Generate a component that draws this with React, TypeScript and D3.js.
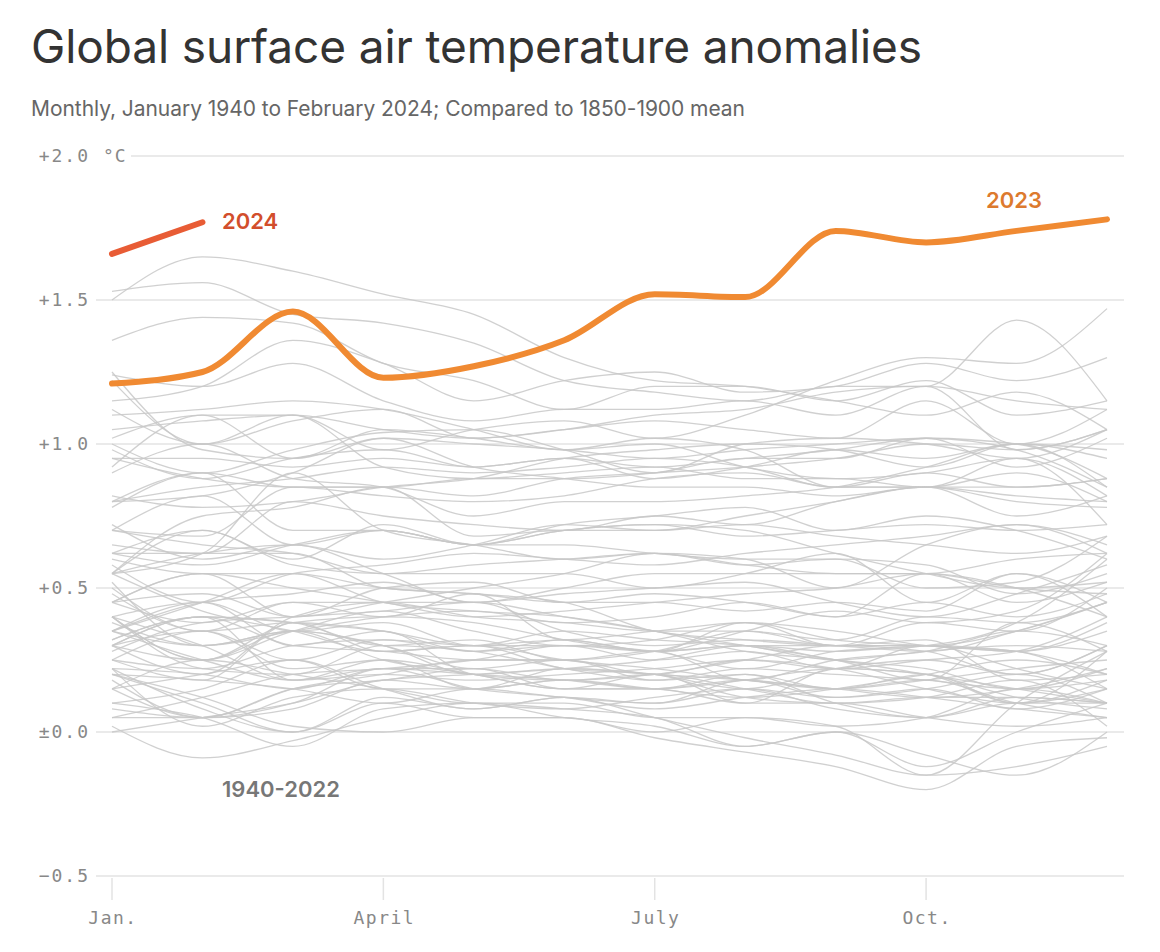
import React from "react";
import * as d3 from "d3";

const months = ["Jan", "Feb", "Mar", "Apr", "May", "Jun", "Jul", "Aug", "Sep", "Oct", "Nov", "Dec"];
const xTickMonths = [0, 3, 6, 9];
const xTickLabels = ["Jan.", "April", "July", "Oct."];
const yTicks = [2.0, 1.5, 1.0, 0.5, 0.0, -0.5];
const yTickLabels = ["+2.0", "+1.5", "+1.0", "+0.5", "±0.0", "−0.5"];

const values2023 = [1.21, 1.25, 1.46, 1.23, 1.27, 1.36, 1.52, 1.51, 1.74, 1.70, 1.74, 1.78];
const values2024 = [1.66, 1.77];

const grayYears = [
  1940, 1941, 1942, 1943, 1944, 1945, 1946, 1947, 1948, 1949,
  1950, 1951, 1952, 1953, 1954, 1955, 1956, 1957, 1958, 1959,
  1960, 1961, 1962, 1963, 1964, 1965, 1966, 1967, 1968, 1969,
  1970, 1971, 1972, 1973, 1974, 1975, 1976, 1977, 1978, 1979,
  1980, 1981, 1982, 1983, 1984, 1985, 1986, 1987, 1988, 1989,
  1990, 1991, 1992, 1993, 1994, 1995, 1996, 1997, 1998, 1999,
  2000, 2001, 2002, 2003, 2004, 2005, 2006, 2007, 2008, 2009,
  2010, 2011, 2012, 2013, 2014, 2015, 2016, 2017, 2018, 2019,
  2020, 2021, 2022,
];

const grayValues = [
  [0.25, 0.22, 0.30, 0.32, 0.28, 0.30, 0.25, 0.28, 0.22, 0.25, 0.28, 0.40],
  [0.52, 0.30, 0.35, 0.40, 0.42, 0.38, 0.40, 0.45, 0.40, 0.55, 0.50, 0.48],
  [0.48, 0.35, 0.38, 0.28, 0.30, 0.22, 0.20, 0.15, 0.22, 0.25, 0.20, 0.30],
  [0.40, 0.45, 0.35, 0.38, 0.30, 0.35, 0.32, 0.30, 0.25, 0.28, 0.30, 0.28],
  [0.45, 0.55, 0.50, 0.45, 0.40, 0.42, 0.45, 0.48, 0.50, 0.55, 0.50, 0.40],
  [0.40, 0.25, 0.35, 0.42, 0.35, 0.30, 0.32, 0.38, 0.35, 0.30, 0.28, 0.20],
  [0.40, 0.30, 0.18, 0.25, 0.20, 0.15, 0.20, 0.15, 0.10, 0.12, 0.18, 0.02],
  [0.35, 0.30, 0.35, 0.30, 0.22, 0.25, 0.20, 0.25, 0.22, 0.30, 0.22, 0.15],
  [0.40, 0.22, 0.20, 0.30, 0.28, 0.22, 0.18, 0.20, 0.15, 0.18, 0.10, 0.05],
  [0.22, 0.20, 0.15, 0.22, 0.15, 0.12, 0.08, 0.12, 0.15, 0.12, 0.08, 0.05],
  [0.10, 0.05, -0.05, 0.08, 0.10, 0.05, 0.02, -0.05, 0.00, -0.08, -0.15, 0.00],
  [0.00, 0.05, 0.10, 0.18, 0.20, 0.22, 0.25, 0.30, 0.30, 0.28, 0.20, 0.30],
  [0.35, 0.25, 0.18, 0.20, 0.18, 0.20, 0.22, 0.25, 0.22, 0.15, 0.10, 0.18],
  [0.32, 0.40, 0.38, 0.35, 0.30, 0.32, 0.28, 0.30, 0.25, 0.22, 0.15, 0.22],
  [0.15, 0.25, 0.20, 0.15, 0.10, 0.10, 0.05, 0.05, 0.02, 0.05, 0.15, 0.10],
  [0.22, 0.08, 0.00, 0.10, 0.05, 0.05, 0.00, 0.05, 0.02, -0.15, -0.12, -0.05],
  [0.02, -0.09, -0.03, 0.05, 0.10, 0.08, 0.05, -0.05, 0.00, -0.12, 0.00, 0.10],
  [0.05, 0.12, 0.20, 0.22, 0.25, 0.30, 0.28, 0.30, 0.28, 0.30, 0.28, 0.35],
  [0.55, 0.42, 0.35, 0.28, 0.30, 0.25, 0.22, 0.18, 0.15, 0.18, 0.22, 0.25],
  [0.30, 0.25, 0.35, 0.30, 0.20, 0.22, 0.20, 0.18, 0.15, 0.12, 0.15, 0.22],
  [0.18, 0.05, 0.10, 0.22, 0.20, 0.18, 0.15, 0.18, 0.22, 0.20, 0.10, 0.28],
  [0.30, 0.40, 0.30, 0.28, 0.25, 0.25, 0.18, 0.22, 0.20, 0.18, 0.15, 0.18],
  [0.30, 0.35, 0.22, 0.25, 0.15, 0.18, 0.15, 0.12, 0.15, 0.20, 0.25, 0.20],
  [0.30, 0.40, 0.18, 0.22, 0.22, 0.18, 0.20, 0.25, 0.30, 0.30, 0.28, 0.15],
  [0.20, 0.12, 0.02, 0.00, 0.05, 0.05, -0.02, -0.07, -0.12, -0.20, -0.05, -0.02],
  [0.20, 0.18, 0.15, 0.10, 0.15, 0.12, 0.10, 0.18, 0.12, 0.15, 0.08, 0.15],
  [0.15, 0.20, 0.25, 0.15, 0.15, 0.22, 0.20, 0.12, 0.10, 0.12, 0.12, 0.10],
  [0.15, 0.05, 0.15, 0.18, 0.22, 0.15, 0.15, 0.18, 0.15, 0.20, 0.10, 0.15],
  [0.10, 0.15, 0.25, 0.15, 0.08, 0.12, 0.10, 0.15, 0.12, 0.15, 0.20, 0.10],
  [0.30, 0.20, 0.40, 0.45, 0.45, 0.35, 0.30, 0.32, 0.30, 0.28, 0.35, 0.45],
  [0.35, 0.45, 0.30, 0.35, 0.20, 0.18, 0.20, 0.10, 0.22, 0.20, 0.12, 0.08],
  [0.22, 0.02, 0.12, 0.15, 0.10, 0.08, 0.12, 0.15, 0.08, 0.05, 0.12, 0.10],
  [0.08, 0.05, 0.15, 0.20, 0.25, 0.25, 0.28, 0.35, 0.30, 0.30, 0.35, 0.45],
  [0.35, 0.45, 0.55, 0.45, 0.42, 0.40, 0.35, 0.28, 0.25, 0.20, 0.15, 0.10],
  [0.05, 0.05, 0.08, 0.18, 0.15, 0.18, 0.15, 0.20, 0.10, 0.05, 0.10, 0.10],
  [0.38, 0.30, 0.35, 0.25, 0.20, 0.15, 0.15, 0.10, 0.10, 0.05, 0.02, 0.05],
  [0.20, 0.10, 0.00, 0.12, 0.08, 0.12, 0.05, -0.02, -0.08, -0.15, 0.10, 0.28],
  [0.28, 0.38, 0.40, 0.42, 0.45, 0.40, 0.35, 0.30, 0.25, 0.18, 0.38, 0.28],
  [0.32, 0.40, 0.38, 0.30, 0.32, 0.25, 0.28, 0.18, 0.25, 0.28, 0.35, 0.30],
  [0.25, 0.18, 0.38, 0.35, 0.28, 0.32, 0.28, 0.35, 0.42, 0.38, 0.42, 0.62],
  [0.45, 0.48, 0.40, 0.50, 0.52, 0.45, 0.45, 0.42, 0.45, 0.42, 0.55, 0.45],
  [0.72, 0.60, 0.65, 0.55, 0.45, 0.48, 0.50, 0.52, 0.45, 0.40, 0.48, 0.58],
  [0.25, 0.35, 0.25, 0.32, 0.30, 0.30, 0.28, 0.22, 0.28, 0.30, 0.38, 0.60],
  [0.70, 0.65, 0.62, 0.55, 0.55, 0.55, 0.50, 0.55, 0.62, 0.45, 0.55, 0.40],
  [0.50, 0.35, 0.45, 0.40, 0.48, 0.32, 0.35, 0.38, 0.30, 0.32, 0.18, 0.20],
  [0.40, 0.25, 0.38, 0.40, 0.38, 0.32, 0.28, 0.38, 0.32, 0.30, 0.28, 0.38],
  [0.45, 0.38, 0.45, 0.45, 0.40, 0.38, 0.35, 0.35, 0.32, 0.40, 0.38, 0.45],
  [0.45, 0.55, 0.40, 0.45, 0.50, 0.55, 0.62, 0.58, 0.60, 0.50, 0.52, 0.68],
  [0.62, 0.58, 0.65, 0.70, 0.65, 0.65, 0.62, 0.60, 0.60, 0.58, 0.48, 0.55],
  [0.35, 0.45, 0.48, 0.52, 0.45, 0.50, 0.55, 0.55, 0.55, 0.55, 0.45, 0.52],
  [0.55, 0.62, 0.90, 0.70, 0.65, 0.60, 0.62, 0.60, 0.50, 0.65, 0.72, 0.62],
  [0.62, 0.70, 0.60, 0.72, 0.65, 0.70, 0.72, 0.70, 0.62, 0.55, 0.50, 0.52],
  [0.62, 0.62, 0.62, 0.50, 0.48, 0.45, 0.35, 0.32, 0.30, 0.38, 0.35, 0.50],
  [0.60, 0.55, 0.55, 0.50, 0.48, 0.45, 0.48, 0.45, 0.40, 0.45, 0.40, 0.48],
  [0.58, 0.45, 0.55, 0.58, 0.62, 0.60, 0.58, 0.62, 0.65, 0.68, 0.72, 0.65],
  [0.78, 0.90, 0.70, 0.70, 0.65, 0.72, 0.75, 0.78, 0.70, 0.75, 0.70, 0.60],
  [0.55, 0.70, 0.58, 0.55, 0.58, 0.60, 0.62, 0.58, 0.55, 0.55, 0.60, 0.62],
  [0.55, 0.62, 0.65, 0.60, 0.65, 0.72, 0.70, 0.75, 0.80, 0.85, 0.85, 0.88],
  [0.92, 1.10, 0.95, 1.05, 1.02, 0.98, 1.02, 0.98, 0.85, 0.85, 0.75, 0.82],
  [0.70, 0.82, 0.65, 0.70, 0.65, 0.70, 0.72, 0.68, 0.70, 0.72, 0.70, 0.72],
  [0.55, 0.75, 0.78, 0.85, 0.68, 0.70, 0.70, 0.72, 0.68, 0.65, 0.62, 0.68],
  [0.70, 0.68, 0.85, 0.82, 0.80, 0.82, 0.88, 0.90, 0.85, 0.85, 0.95, 0.82],
  [1.02, 1.10, 1.10, 0.92, 0.88, 0.90, 0.92, 0.88, 0.88, 0.85, 0.90, 0.80],
  [0.95, 0.88, 0.85, 0.85, 0.88, 0.88, 0.90, 0.95, 0.95, 1.02, 0.92, 1.02],
  [0.90, 1.00, 0.88, 0.85, 0.75, 0.80, 0.80, 0.82, 0.85, 0.92, 1.00, 0.85],
  [0.98, 0.88, 0.95, 0.98, 0.92, 0.95, 0.92, 0.95, 0.98, 1.02, 1.00, 0.88],
  [0.80, 0.90, 0.85, 0.85, 0.82, 0.88, 0.90, 0.92, 0.95, 1.00, 0.98, 1.05],
  [1.25, 0.98, 0.95, 1.02, 0.92, 0.88, 0.85, 0.85, 0.82, 0.85, 0.82, 0.80],
  [0.65, 0.62, 0.80, 0.75, 0.72, 0.70, 0.75, 0.72, 0.80, 0.85, 0.80, 0.78],
  [0.82, 0.78, 0.80, 0.85, 0.88, 0.95, 0.98, 1.00, 0.98, 0.92, 1.00, 0.95],
  [1.10, 1.12, 1.15, 1.12, 1.05, 0.98, 1.00, 0.92, 0.88, 0.90, 0.95, 0.72],
  [0.80, 0.85, 0.88, 0.92, 0.90, 0.92, 0.95, 0.92, 0.85, 0.90, 0.85, 0.88],
  [0.80, 0.82, 0.90, 1.02, 1.00, 0.98, 0.95, 0.98, 1.00, 1.02, 0.98, 0.85],
  [0.95, 0.95, 0.92, 0.95, 0.92, 0.95, 0.88, 0.92, 0.98, 0.95, 1.00, 0.98],
  [1.00, 0.90, 0.98, 1.04, 1.05, 0.98, 0.90, 1.00, 1.02, 1.00, 0.95, 1.05],
  [1.05, 1.08, 1.10, 0.98, 1.05, 1.08, 1.02, 1.10, 1.22, 1.30, 1.28, 1.47],
  [1.50, 1.65, 1.60, 1.52, 1.45, 1.30, 1.22, 1.20, 1.15, 1.10, 1.18, 1.05],
  [1.36, 1.44, 1.42, 1.28, 1.22, 1.12, 1.20, 1.20, 1.15, 1.22, 1.10, 1.15],
  [1.12, 1.00, 1.08, 1.12, 1.02, 1.05, 1.08, 1.05, 1.02, 1.15, 1.00, 1.12],
  [1.15, 1.20, 1.36, 1.28, 1.15, 1.22, 1.25, 1.18, 1.20, 1.28, 1.22, 1.30],
  [1.53, 1.56, 1.45, 1.42, 1.35, 1.22, 1.18, 1.15, 1.20, 1.20, 1.43, 1.15],
  [1.22, 1.00, 1.10, 1.05, 1.02, 1.05, 1.10, 1.12, 1.18, 1.20, 1.15, 1.12],
  [1.24, 1.20, 1.28, 1.15, 1.08, 1.12, 1.12, 1.15, 1.10, 1.20, 0.98, 1.05],
];

const W = 1160;
const H = 952;
const monoFont = "'DejaVu Sans Mono', 'Liberation Mono', monospace";
const sansFont = "Inter, 'Noto Sans', sans-serif";

export default function App() {
  const x = d3.scalePoint<number>().domain(d3.range(12)).range([112, 1107]);
  const y = d3.scaleLinear().domain([-0.5, 2.0]).range([876, 156]);
  const line = d3
    .line<number>()
    .x((_, i) => x(i) as number)
    .y((d) => y(d))
    .curve(d3.curveMonotoneX);

  return (
    <svg width={W} height={H} style={{ display: "block", margin: "-8px", background: "#fff" }}>
      <rect width={W} height={H} fill="#fff" />
      <text x={31} y={63} fontFamily={sansFont} fontSize={46} fill="#333" letterSpacing={-0.1}>
        Global surface air temperature anomalies
      </text>
      <text x={31} y={116} fontFamily={sansFont} fontSize={21} fill="#666" letterSpacing={-0.05}>
        Monthly, January 1940 to February 2024; Compared to 1850-1900 mean
      </text>

      {yTicks.map((t, i) => (
        <g key={t}>
          <line
            x1={i === 0 ? 131 : 96}
            x2={1124}
            y1={y(t)}
            y2={y(t)}
            stroke="#e3e3e3"
            strokeWidth={1.5}
          />
          <text
            x={90}
            y={y(t)}
            dy="0.35em"
            textAnchor="end"
            fontFamily={monoFont}
            fontSize={18}
            fill="#888"
            letterSpacing={2}
          >
            {yTickLabels[i]}
          </text>
        </g>
      ))}
      <text x={103} y={y(2.0)} dy="0.35em" fontFamily={monoFont} fontSize={18} fill="#888" letterSpacing={1}>
        °C
      </text>

      {xTickMonths.map((m, i) => (
        <g key={m}>
          <line x1={x(m)} x2={x(m)} y1={878} y2={900} stroke="#e3e3e3" strokeWidth={1.5} />
          <text
            x={(x(m) as number) + 1}
            y={924}
            textAnchor="middle"
            fontFamily={monoFont}
            fontSize={18}
            fill="#888"
            letterSpacing={1.5}
          >
            {xTickLabels[i]}
          </text>
        </g>
      ))}

      <g fill="none" stroke="#c8c8c8" strokeWidth={1.3} strokeOpacity={0.85}>
        {grayValues.map((vals, i) => (
          <path key={grayYears[i]} d={line(vals) || ""} />
        ))}
      </g>

      <path
        d={line(values2023) || ""}
        fill="none"
        stroke="#F08A32"
        strokeWidth={6}
        strokeLinecap="round"
        strokeLinejoin="round"
      />
      <path
        d={line(values2024) || ""}
        fill="none"
        stroke="#E85C35"
        strokeWidth={6}
        strokeLinecap="round"
      />

      <text x={222} y={229} fontFamily={sansFont} fontSize={22} fontWeight={600} fill="#D24E2C">
        2024
      </text>
      <text x={986} y={208} fontFamily={sansFont} fontSize={22} fontWeight={600} fill="#DD7A2E">
        2023
      </text>
      <text x={222} y={797} fontFamily={sansFont} fontSize={22} fontWeight={600} fill="#777">
        1940-2022
      </text>
    </svg>
  );
}
